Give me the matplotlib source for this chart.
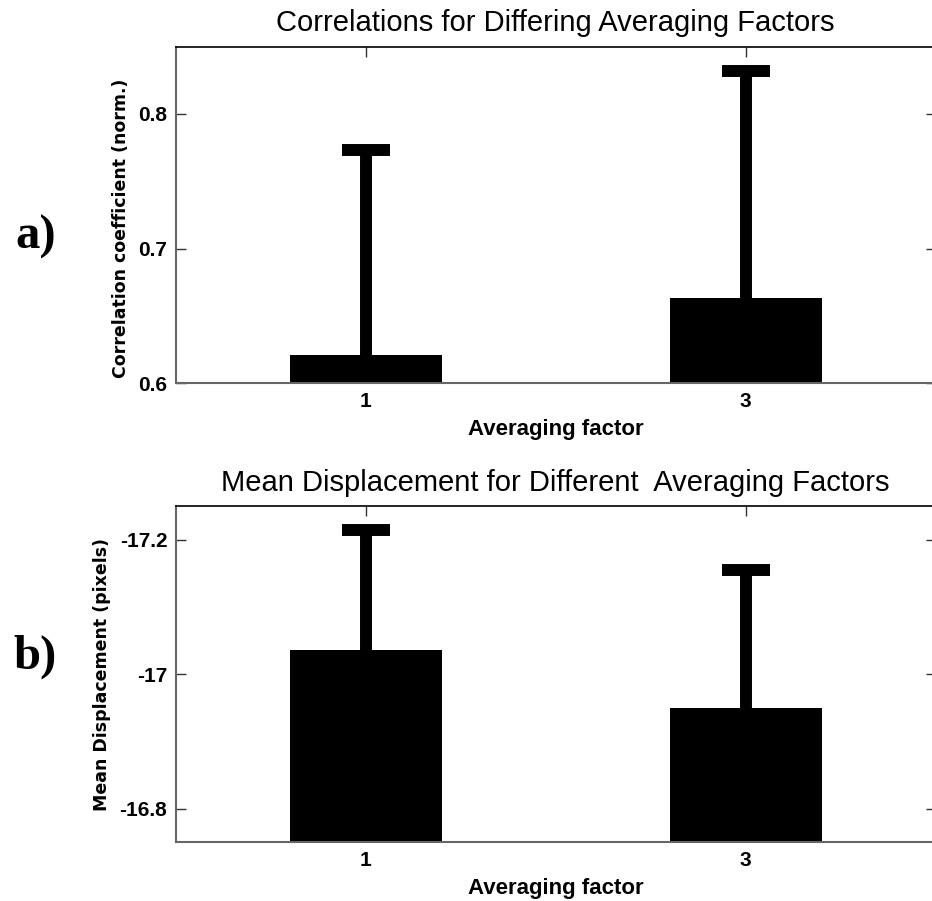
import numpy as np
import matplotlib.pyplot as plt

# averaging factors on the x axis
factors = [1, 3]

# a) correlation coefficient: bar means and top of the error bar
corr_mean = [0.621, 0.663]
corr_top = [0.773, 0.832]

# b) mean displacement: bar means and end of the error bar
disp_mean = [-17.036, -16.949]
disp_top = [-17.215, -17.155]

narrow = ['Liberation Sans Narrow', 'Liberation Sans', 'DejaVu Sans']

fig = plt.figure(figsize=(9.32, 9.01), dpi=100)
ax1 = fig.add_axes([0.1885, 0.5746, 0.8155, 0.3736])
ax2 = fig.add_axes([0.1885, 0.0651, 0.8155, 0.3733])


def style_axes(ax, title, ylabel, yticks, yticklabels):
    ax.set_xlim(0, 4)
    ax.set_xticks(factors)
    ax.set_xticklabels([str(f) for f in factors], family=narrow, fontsize=15, fontweight='bold')
    ax.set_yticks(yticks)
    ax.set_yticklabels(yticklabels, family=narrow, fontsize=15, fontweight='bold')
    ax.tick_params(direction='in', length=7, width=1, top=True, right=True, color='#333333', pad=6)
    for side in ['left', 'bottom']:
        ax.spines[side].set_color('#666666')
        ax.spines[side].set_linewidth(1.5)
    ax.spines['top'].set_color('black')
    ax.spines['top'].set_linewidth(1.2)
    ax.set_title(title, family=narrow, fontsize=21, pad=11)
    ax.set_xlabel('Averaging factor', family=narrow, fontsize=16, fontweight='bold', labelpad=6)
    ax.set_ylabel(ylabel, family='DejaVu Sans', fontsize=12.5, fontweight='bold', labelpad=6)


def bars_with_err(ax, mean, top):
    ax.bar(factors, mean, width=0.8, color='black', zorder=2)
    # one-sided error bar: stem from the bar to the cap
    ax.vlines(factors, mean, top, color='black', linewidth=8.6, zorder=3)
    ax.plot(factors, top, linestyle='none', marker='_', markersize=34.5,
            markeredgewidth=8.6, color='black', zorder=3)


# top panel
bars_with_err(ax1, corr_mean, corr_top)
ax1.set_ylim(0.6, 0.85)
style_axes(ax1, 'Correlations for Differing Averaging Factors',
           'Correlation coefficient (norm.)', [0.6, 0.7, 0.8], ['0.6', '0.7', '0.8'])
ax1.yaxis.set_label_coords(-0.06, 0.46)

# bottom panel, y axis reversed as in the original
bars_with_err(ax2, disp_mean, disp_top)
ax2.set_ylim(-16.75, -17.25)
style_axes(ax2, 'Mean Displacement for Different  Averaging Factors',
           'Mean Displacement (pixels)', [-17.2, -17.0, -16.8], ['-17.2', '-17', '-16.8'])

fig.text(0.038, 0.737, 'a)', family='Liberation Serif', fontsize=35, fontweight='bold',
         ha='center', va='center')
fig.text(0.038, 0.271, 'b)', family='Liberation Serif', fontsize=35, fontweight='bold',
         ha='center', va='center')

fig.savefig('out.png', dpi=100)
